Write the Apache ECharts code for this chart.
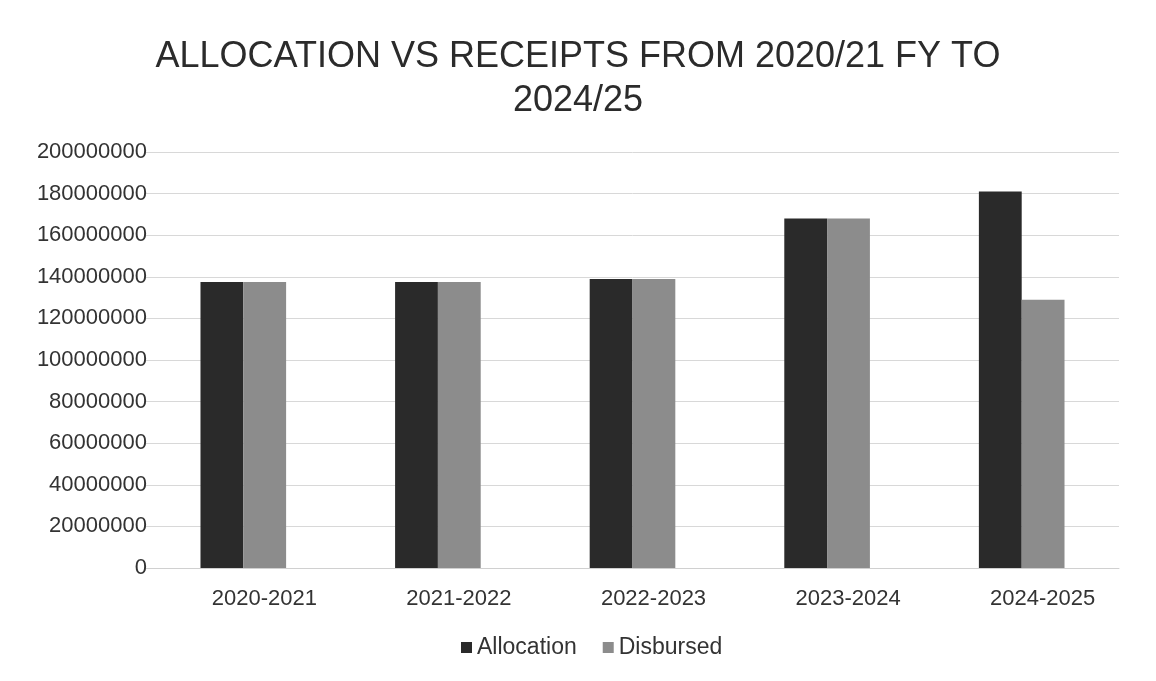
<!DOCTYPE html>
<html>
<head>
<meta charset="utf-8">
<script src="https://cdn.jsdelivr.net/npm/echarts@6/dist/echarts.min.js"></script>
<style>
html,body{margin:0;padding:0;background:#fff;}
#chart{width:1156px;height:681px;}
</style>
</head>
<body>
<div id="chart"></div>
<script>
const categories = ['2020-2021', '2021-2022', '2022-2023', '2023-2024', '2024-2025'];
const allocation = [137500000, 137500000, 139000000, 168000000, 181000000];
const disbursed = [137500000, 137500000, 139000000, 168000000, 129000000];
const titleText = 'ALLOCATION VS RECEIPTS FROM 2020/21 FY TO\n2024/25';
const seriesNames = ['Allocation', 'Disbursed'];

const chart = echarts.init(document.getElementById('chart'));
const font = 'Liberation Sans, Arial, sans-serif';
chart.setOption({
  backgroundColor: '#ffffff',
  animation: false,
  title: {
    text: titleText,
    left: 'center',
    top: 30,
    textStyle: { fontFamily: font, fontSize: 36, fontWeight: 'normal', color: '#2b2b2b', lineHeight: 44 }
  },
  legend: {
    data: seriesNames,
    bottom: 17,
    left: 456,
    itemWidth: 11,
    itemHeight: 11,
    itemGap: 26,
    icon: 'rect',
    textStyle: { fontFamily: font, fontSize: 23, color: '#333' }
  },
  grid: { left: 146, right: 37, top: 152, bottom: 113, containLabel: false },
  xAxis: {
    type: 'category',
    data: categories,
    axisLine: { show: true, lineStyle: { color: '#d0d0d0' } },
    axisTick: { show: false },
    axisLabel: { fontFamily: font, fontSize: 22, color: '#333', margin: 20, padding: [0, 0, 0, 42] }
  },
  yAxis: {
    type: 'value',
    min: 0,
    max: 200000000,
    interval: 20000000,
    axisLine: { show: false },
    axisTick: { show: false },
    axisLabel: { fontFamily: font, fontSize: 22, color: '#333', margin: -1, formatter: v => String(v) },
    splitLine: { lineStyle: { color: '#d8d8d8', width: 1 } }
  },
  series: [
    { name: seriesNames[0], type: 'bar', data: allocation, barGap: '0%', barCategoryGap: '56%', itemStyle: { color: '#2a2a2a' } },
    { name: seriesNames[1], type: 'bar', data: disbursed, itemStyle: { color: '#8c8c8c' } }
  ]
});
</script>
</body>
</html>
